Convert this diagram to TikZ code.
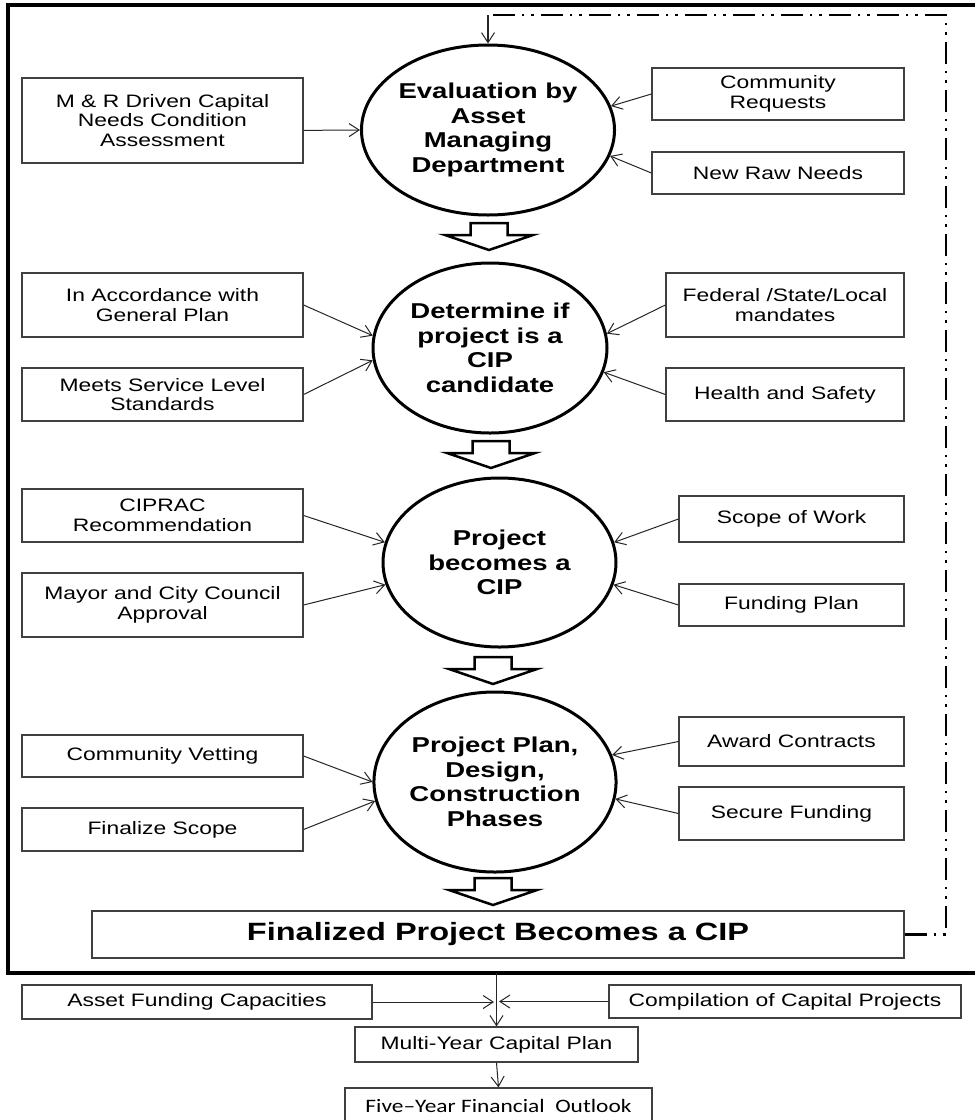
\documentclass[tikz,border=0pt]{standalone}
\usepackage{fontspec}
\setmainfont{Liberation Sans}
\newfontfamily\boxfont[FakeStretch=1.27]{Liberation Sans}
\newfontfamily\ellfont[FakeStretch=1.28]{Liberation Sans}
\newfontfamily\finfont[FakeStretch=1.30]{Liberation Sans}
\newfontfamily\fivefont[FakeStretch=1.23]{Carlito}
\usetikzlibrary{arrows.meta,shapes.geometric}
\tikzset{
  box/.style={draw=black!75, line width=1.2pt, inner sep=0pt, align=center,
    font=\boxfont\fontsize{18}{19.5}\selectfont},
  ell/.style={draw, ellipse, line width=3pt, inner sep=0pt, align=center,
    font=\ellfont\bfseries\fontsize{21.5}{24.5}\selectfont},
  conn/.style={draw=black!85, line width=1pt,
    -{Straight Barb[length=10pt,width=13pt,line width=1pt]}},
  blk/.style={draw, line width=2.5pt, fill=white, line join=miter},
  fb/.style={line width=2.8pt, dash pattern=on 22pt off 7pt on 2.5pt off 7pt on 2.5pt off 7pt},
  blkarrow/.pic={\draw[blk] (-18.5,0) -- (18.5,0) -- (18.5,12) -- (44,12) -- (0,27) -- (-44,12) -- (-18.5,12) -- cycle;}
}
\begin{document}
\begin{tikzpicture}[x=1pt,y=-1pt]
\useasboundingbox (0,0) rectangle (975,1120);
\fill[white] (0,0) rectangle (975,1120);
% frame
\draw[line width=4pt] (8,5) rectangle (990,973);

% ellipses
\node[ell, minimum width=232pt, minimum height=170pt] (e1) at (488,130) {Evaluation by\\Asset\\Managing\\Department};
\node[ell, minimum width=234pt, minimum height=170pt] (e2) at (490,348) {Determine if\\project is a\\CIP\\candidate};
\node[ell, minimum width=233pt, minimum height=169pt] (e3) at (499.5,562.5) {Project\\becomes a\\CIP};
\node[ell, minimum width=230pt, minimum height=180pt] (e4) at (495,782) {Project Plan,\\Design,\\Construction\\Phases};

% block arrows
\pic at (489,223) {blkarrow};
\pic at (491,441) {blkarrow};
\pic at (493,657) {blkarrow};
\pic at (493,878) {blkarrow};

% left boxes
\node[box, minimum width=281pt, minimum height=85pt] (mr) at (162.5,120.5) {M \& R Driven Capital\\Needs Condition\\Assessment};
\node[box, minimum width=281pt, minimum height=64pt] (acc) at (162.5,305) {In Accordance with\\General Plan};
\node[box, minimum width=281pt, minimum height=53pt] (meets) at (162.5,394.5) {Meets Service Level\\Standards};
\node[box, minimum width=281pt, minimum height=53pt] (ciprac) at (162.5,515.5) {CIPRAC\\Recommendation};
\node[box, minimum width=281pt, minimum height=64pt] (mayor) at (162.5,605) {Mayor and City Council\\Approval};
\node[box, minimum width=281pt, minimum height=42pt] (vet) at (162.5,756) {Community Vetting};
\node[box, minimum width=281pt, minimum height=43pt] (fscope) at (162.5,829.5) {Finalize Scope};

% right boxes
\node[box, minimum width=252pt, minimum height=52pt] (creq) at (778,94) {Community\\Requests};
\node[box, minimum width=252pt, minimum height=42pt] (raw) at (778,173) {New Raw Needs};
\node[box, minimum width=238pt, minimum height=64pt] (fed) at (785,305) {Federal /State/Local\\mandates};
\node[box, minimum width=238pt, minimum height=53pt] (health) at (785,394.5) {Health and Safety};
\node[box, minimum width=225pt, minimum height=46pt] (sow) at (791.5,519) {Scope of Work};
\node[box, minimum width=225pt, minimum height=42pt] (fplan) at (791.5,605) {Funding Plan};
\node[box, minimum width=225pt, minimum height=49pt] (award) at (791.5,741.5) {Award Contracts};
\node[box, minimum width=225pt, minimum height=53pt] (secure) at (791.5,813.5) {Secure Funding};

% finalized
\node[box, minimum width=812pt, minimum height=47pt, font=\finfont\bfseries\fontsize{25}{28}\selectfont] (fin) at (498,934.5) {Finalized Project Becomes a CIP};

% bottom boxes
\node[box, minimum width=350pt, minimum height=34pt] (asset) at (197,1002) {Asset Funding Capacities};
\node[box, minimum width=352pt, minimum height=33pt] (comp) at (785,1001.5) {Compilation of Capital Projects};
\node[box, minimum width=283pt, minimum height=35pt] (myc) at (496.5,1044.5) {Multi-Year Capital Plan};
\node[box, minimum width=307pt, minimum height=36pt, font=\fivefont\fontsize{19}{21}\selectfont] (five) at (498.5,1106) {Five–Year Financial\ \ Outlook};

% connectors into ellipses
\draw[conn] (mr.-4) -- (e1.west);
\draw[conn] (creq.west) -- (e1.11);
\draw[conn] (raw.west) -- (e1.-12);
\draw[conn] (acc.east) -- (e2.174);
\draw[conn] (meets.east) -- (e2.186);
\draw[conn] (fed.west) -- (e2.7);
\draw[conn] (health.west) -- (e2.-12);
\draw[conn] (ciprac.east) -- (e3.170);
\draw[conn] (mayor.east) -- (e3.191);
\draw[conn] (sow.west) -- (e3.10);
\draw[conn] (fplan.west) -- (e3.-11);
\draw[conn] (vet.east) -- (e4.180);
\draw[conn] (fscope.east) -- (e4.189);
\draw[conn] (award.west) -- (e4.13);
\draw[conn] (secure.west) -- (e4.-8);

% feedback loop
\coordinate (fbA) at (488,15);
\coordinate (fbB) at (946,15);
\coordinate (fbC) at (946,934.5);
\draw[fb] (fin.east) -- (fbC) -- (fbB) -- (fbA);
\draw[conn, line width=1.5pt] (fbA) -- (e1.north);

% bottom flow
\coordinate (fb0) at (496.5,973);
\coordinate (jl) at (494,1002);
\coordinate (jr) at (499,1001.5);
\draw[conn] (fb0) -- (myc.north);
\draw[conn] (asset.east) -- (jl);
\draw[conn] (comp.west) -- (jr);
\draw[conn] (myc.south) -- (five.north);
\end{tikzpicture}
\end{document}
